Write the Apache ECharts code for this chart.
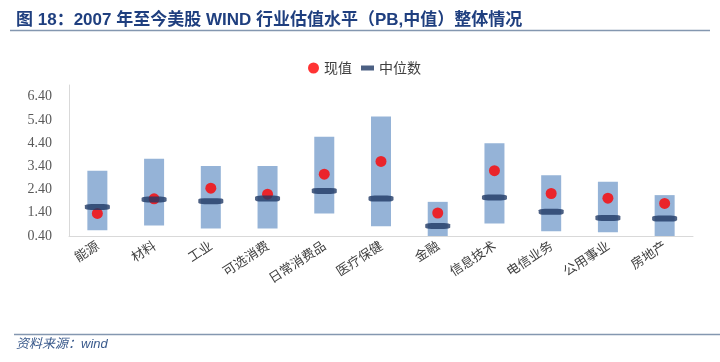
<!DOCTYPE html>
<html><head><meta charset="utf-8">
<script src="https://cdn.jsdelivr.net/npm/echarts@6/dist/echarts.min.js"></script>
<style>html,body{margin:0;padding:0;background:#fff}#c{width:720px;height:362px}</style>
</head><body><div id="c"></div>
<script>
const categories = ['能源','材料','工业','可选消费','日常消费品','医疗保健','金融','信息技术','电信业务','公用事业','房地产'];
const rangeLow  = [0.65, 0.85, 0.72, 0.72, 1.37, 0.82, 0.40, 0.94, 0.60, 0.56, 0.40];
const rangeHigh = [3.21, 3.72, 3.41, 3.41, 4.67, 5.54, 1.87, 4.39, 3.02, 2.73, 2.16];
const medianVal = [1.65, 1.97, 1.90, 2.01, 2.34, 2.01, 0.83, 2.06, 1.44, 1.18, 1.15];
const currentVal= [1.37, 2.00, 2.46, 2.20, 3.06, 3.61, 1.39, 3.21, 2.23, 2.03, 1.80];

const rangeSpan = rangeHigh.map((h, i) => +(h - rangeLow[i]).toFixed(2));
const chart = echarts.init(document.getElementById('c'));
const cjk = '"Noto Sans CJK SC", sans-serif';
chart.setOption({
  animation: false,
  backgroundColor: '#fff',
  title: {
    text: '图 18：2007 年至今美股 WIND 行业估值水平（PB,中值）整体情况',
    left: 11, top: 7,
    textStyle: { fontSize: 17, fontWeight: 'bold', color: '#1F3F7F', fontFamily: '"Liberation Sans", "Noto Sans CJK SC", sans-serif' }
  },
  legend: [
    { data: [{ name: '现值', icon: 'circle' }], left: 303, top: 56, itemWidth: 11, itemHeight: 11,
      textStyle: { fontSize: 14, color: '#404040', fontFamily: cjk } },
    { data: [{ name: '中位数', icon: 'rect' }], left: 356, top: 56, itemWidth: 13, itemHeight: 5,
      textStyle: { fontSize: 14, color: '#404040', fontFamily: cjk } }
  ],
  grid: { left: 69, right: 27, top: 85, bottom: 126 },
  xAxis: {
    type: 'category', data: categories,
    axisLine: { show: true, lineStyle: { color: '#D9D9D9', width: 1 } },
    axisTick: { show: false },
    axisLabel: { rotate: 33, interval: 0, fontSize: 13, color: '#404040', fontFamily: cjk, margin: 8 }
  },
  yAxis: {
    type: 'value', min: 0.4, max: 6.9, interval: 1,
    axisLine: { show: true, lineStyle: { color: '#D9D9D9', width: 1 } },
    axisTick: { show: false },
    splitLine: { show: false },
    axisLabel: { showMaxLabel: false, margin: 17, fontSize: 14, color: '#595959',
      fontFamily: '"Liberation Serif", serif', formatter: v => v.toFixed(2) }
  },
  series: [
    { name: 'base', type: 'bar', stack: 'r', data: rangeLow, barWidth: 20,
      itemStyle: { color: 'transparent' }, silent: true },
    { name: '区间', type: 'bar', stack: 'r', data: rangeSpan, barWidth: 20,
      itemStyle: { color: '#95B3D7' } },
    { name: '现值', type: 'scatter', data: currentVal, symbol: 'circle', symbolSize: 11,
      itemStyle: { color: '#FF0000' }, z: 3 },
    { name: '中位数', type: 'scatter', data: medianVal, symbol: 'roundRect', symbolSize: [25, 6],
      itemStyle: { color: '#1F3864' }, z: 4 }
  ],
  graphic: [
    { type: 'line', shape: { x1: 10, y1: 30.5, x2: 710, y2: 30.5 }, style: { stroke: '#8497B0', lineWidth: 1.5 } },
    { type: 'line', shape: { x1: 14, y1: 334.5, x2: 720, y2: 334.5 }, style: { stroke: '#8497B0', lineWidth: 1.5 } },
    { type: 'text', left: 16, top: 338, style: { text: '资料来源：wind', fontSize: 13, fontStyle: 'italic',
      fill: '#3A5A8C', fontFamily: '"Liberation Sans", "Noto Sans CJK SC", sans-serif' } }
  ]
});
</script></body></html>
